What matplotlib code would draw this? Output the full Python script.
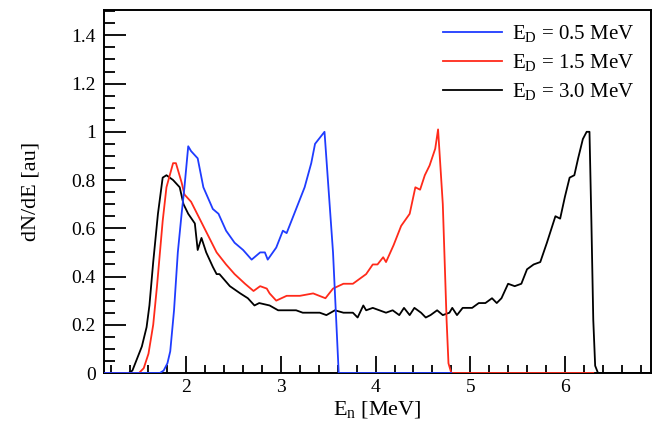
import matplotlib
matplotlib.use("Agg")
import matplotlib.pyplot as plt
from matplotlib.ticker import MultipleLocator, FormatStrFormatter

# =========================
# Data
# =========================

x_05 = [1.10, 1.72, 1.76, 1.80, 1.83, 1.87, 1.91, 1.95, 1.98, 2.02, 2.05, 2.12,
        2.18, 2.28, 2.34, 2.42, 2.51, 2.60, 2.69, 2.78, 2.83, 2.86, 2.95, 3.02,
        3.06, 3.16, 3.25, 3.32, 3.36, 3.46, 3.55, 3.61, 4.80]
y_05 = [0.00, 0.00, 0.01, 0.04, 0.09, 0.26, 0.50, 0.66, 0.77, 0.94, 0.92, 0.89,
        0.77, 0.68, 0.66, 0.59, 0.54, 0.51, 0.47, 0.50, 0.50, 0.47, 0.52, 0.59,
        0.58, 0.68, 0.77, 0.87, 0.95, 1.00, 0.50, 0.00, 0.00]

x_15 = [1.10, 1.50, 1.55, 1.60, 1.65, 1.69, 1.75, 1.79, 1.86, 1.89, 1.95, 1.98,
        2.05, 2.14, 2.23, 2.32, 2.42, 2.51, 2.62, 2.71, 2.78, 2.85, 2.88, 2.95,
        3.06, 3.20, 3.34, 3.47, 3.55, 3.66, 3.76, 3.83, 3.90, 3.97, 4.02, 4.08,
        4.11, 4.19, 4.27, 4.36, 4.42, 4.47, 4.52, 4.57, 4.63, 4.66, 4.71, 4.75,
        4.77, 4.80, 6.30]
y_15 = [0.00, 0.00, 0.02, 0.08, 0.20, 0.36, 0.63, 0.77, 0.87, 0.87, 0.79, 0.74,
        0.71, 0.64, 0.57, 0.50, 0.45, 0.41, 0.37, 0.34, 0.36, 0.35, 0.33, 0.30,
        0.32, 0.32, 0.33, 0.31, 0.35, 0.37, 0.37, 0.39, 0.41, 0.45, 0.45, 0.48,
        0.46, 0.53, 0.61, 0.66, 0.77, 0.76, 0.82, 0.86, 0.93, 1.01, 0.70, 0.22,
        0.04, 0.00, 0.00]

x_30 = [1.10, 1.39, 1.43, 1.46, 1.53, 1.58, 1.61, 1.65, 1.70, 1.75, 1.79, 1.86,
        1.93, 1.97, 2.02, 2.09, 2.12, 2.16, 2.21, 2.28, 2.32, 2.35, 2.46, 2.57,
        2.65, 2.72, 2.77, 2.88, 2.97, 3.09, 3.16, 3.23, 3.34, 3.41, 3.48, 3.57,
        3.66, 3.76, 3.81, 3.87, 3.90, 3.97, 4.04, 4.11, 4.18, 4.25, 4.30, 4.36,
        4.41, 4.48, 4.53, 4.58, 4.65, 4.71, 4.78, 4.81, 4.86, 4.92, 5.02, 5.09,
        5.16, 5.23, 5.28, 5.33, 5.40, 5.47, 5.54, 5.60, 5.67, 5.74, 5.81, 5.90,
        5.95, 6.00, 6.05, 6.10, 6.14, 6.19, 6.23, 6.26, 6.28, 6.30, 6.32, 6.35,
        6.90]
y_30 = [0.00, 0.00, 0.01, 0.04, 0.11, 0.19, 0.28, 0.46, 0.66, 0.81, 0.82, 0.80,
        0.77, 0.70, 0.66, 0.62, 0.51, 0.56, 0.50, 0.44, 0.41, 0.41, 0.36, 0.33,
        0.31, 0.28, 0.29, 0.28, 0.26, 0.26, 0.26, 0.25, 0.25, 0.25, 0.24, 0.26,
        0.25, 0.25, 0.23, 0.28, 0.26, 0.27, 0.26, 0.25, 0.26, 0.24, 0.27, 0.24,
        0.27, 0.25, 0.23, 0.24, 0.26, 0.24, 0.25, 0.27, 0.24, 0.27, 0.27, 0.29,
        0.29, 0.31, 0.29, 0.31, 0.37, 0.36, 0.37, 0.43, 0.45, 0.46, 0.54, 0.65,
        0.64, 0.73, 0.81, 0.82, 0.89, 0.97, 1.00, 1.00, 0.63, 0.22, 0.03, 0.00,
        0.00]

labels = ["E$_\\mathregular{D}$ = 0.5 MeV",
          "E$_\\mathregular{D}$ = 1.5 MeV",
          "E$_\\mathregular{D}$ = 3.0 MeV"]

# =========================
# Plot
# =========================

plt.rcParams['font.family'] = 'Liberation Serif'
plt.rcParams['mathtext.fontset'] = 'custom'
plt.rcParams['mathtext.rm'] = 'Liberation Serif'

fig = plt.figure(figsize=(6.57, 4.25), dpi=100)
ax = fig.add_axes([104 / 657, 52 / 425, 547 / 657, 363 / 425])

l3, = ax.plot(x_30, y_30, color='black', lw=1.3, zorder=2)
l2, = ax.plot(x_15, y_15, color='#ff2a1a', lw=1.3, zorder=3)
l1, = ax.plot(x_05, y_05, color='#1f3cff', lw=1.3, zorder=4)

ax.set_xlim(1.13, 6.91)
ax.set_ylim(0, 1.505)

ax.xaxis.set_major_locator(MultipleLocator(1))
ax.xaxis.set_minor_locator(MultipleLocator(0.2))
ax.yaxis.set_major_locator(MultipleLocator(0.2))
ax.yaxis.set_minor_locator(MultipleLocator(0.05))
ax.yaxis.set_major_formatter(FormatStrFormatter('%g'))

ax.tick_params(axis='both', which='both', direction='in', top=False, right=False,
               labelsize=14, width=1.3)
ax.tick_params(axis='y', which='major', length=16, pad=6)
ax.tick_params(axis='y', which='minor', length=8)
ax.tick_params(axis='x', which='major', length=12, pad=4)
ax.tick_params(axis='x', which='minor', length=6)

for s in ax.spines.values():
    s.set_linewidth(1.4)

ax.set_xlabel("E$_\\mathregular{n}$ [MeV]", fontsize=16, labelpad=3)
ax.set_ylabel("dN/dE [au]", fontsize=16, labelpad=22)

ax.legend([l1, l2, l3], labels, loc='upper right', frameon=False, fontsize=15,
          handlelength=2.8, handletextpad=0.5, labelspacing=0.35,
          bbox_to_anchor=(1.004, 1.015))

fig.savefig("out.png", dpi=100)
